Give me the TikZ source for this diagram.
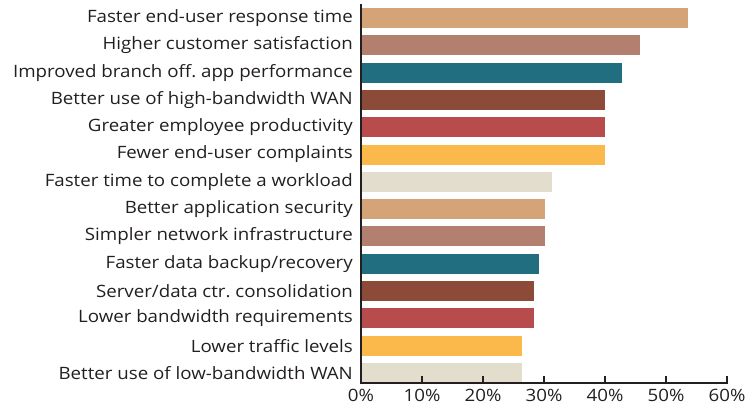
\documentclass[tikz,border=0pt]{standalone}
\usepackage{fontspec}
\setmainfont[FakeStretch=1.1]{Open Sans}
\usetikzlibrary{positioning}

\definecolor{inkgray}{HTML}{231F20}
\definecolor{tanbar}{HTML}{D4A478}
\definecolor{mauvebar}{HTML}{B38070}
\definecolor{tealbar}{HTML}{206E80}
\definecolor{brownbar}{HTML}{8B4B38}
\definecolor{redbar}{HTML}{B84C4C}
\definecolor{yellowbar}{HTML}{FBB94C}
\definecolor{beigebar}{HTML}{E2DDCD}

\begin{document}
\begin{tikzpicture}[x=1pt,y=-1pt,
  bar/.style={rectangle, draw=none, inner sep=0pt, minimum height=20pt, anchor=west},
  lbl/.style={font=\fontsize{17}{19}\selectfont, text=inkgray, inner sep=0pt},
  axisline/.style={draw=inkgray, line width=2.4pt},
  tickmark/.style={draw=inkgray, line width=2.4pt}]

  % frame of the picture
  \useasboundingbox (0,0) rectangle (747,410);

  % bars and their labels (value in %, colour, text)
  \foreach \v/\c/\t [count=\i] in {
      53.6/tanbar/{Faster end-user response time},
      45.7/mauvebar/{Higher customer satisfaction},
      42.8/tealbar/{Improved branch off.\ app performance},
      40/brownbar/{Better use of high-bandwidth WAN},
      40/redbar/{Greater employee productivity},
      40/yellowbar/{Fewer end-user complaints},
      31.3/beigebar/{Faster time to complete a workload},
      30.2/tanbar/{Better application security},
      30.2/mauvebar/{Simpler network infrastructure},
      29.2/tealbar/{Faster data backup/recovery},
      28.4/brownbar/{Server/data ctr.\ consolidation},
      28.4/redbar/{Lower bandwidth requirements},
      26.4/yellowbar/{Lower traffic levels},
      26.4/beigebar/{Better use of low-bandwidth WAN}} {
    \node[bar, fill=\c, minimum width=6.1*\v pt] (bar\i) at (361, 18+27.3*\i-27.3) {};
    \node[lbl, left=8pt of bar\i.west] (lbl\i) {\t};
  }

  % axes
  \coordinate (top) at (361,4);
  \coordinate (origin) at (361,383);
  \coordinate (right) at (728,383);
  \draw[axisline] (top) -- (origin) -- (right);

  % ticks and tick labels
  \foreach \k [evaluate=\k as \p using int(10*\k)] in {0,...,6} {
    \coordinate (tk\k) at (361+61*\k, 376);
    \draw[tickmark] (tk\k) -- ++(0,7) node[lbl, below=5pt] (tl\k) {\p\%};
  }

\end{tikzpicture}
\end{document}
